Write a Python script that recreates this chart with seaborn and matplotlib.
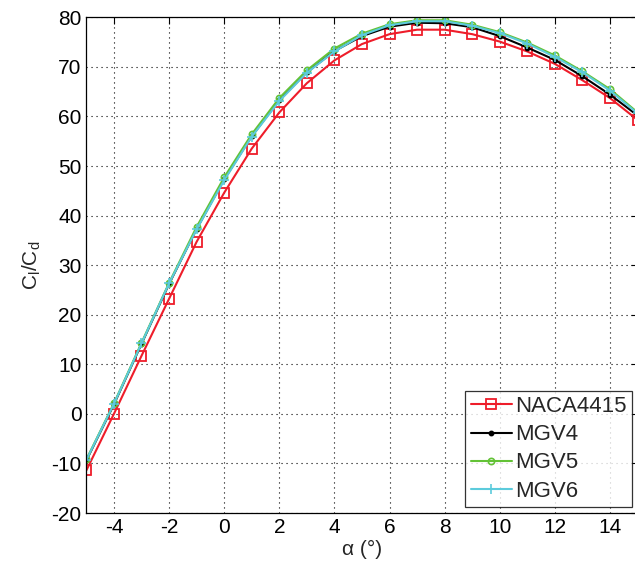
import numpy as np
import pandas as pd
import matplotlib
matplotlib.use("Agg")
import matplotlib.pyplot as plt
import seaborn as sns

# Angle of attack (deg)
alpha = [-5, -4, -3, -2, -1, 0, 1, 2, 3, 4, 5, 6, 7, 8, 9, 10, 11, 12, 13, 14, 15]

# Lift-to-drag ratio for each airfoil
naca4415 = [-11.4, 0.0, 11.7, 23.2, 34.7, 44.6, 53.5, 60.8, 66.7, 71.3, 74.6,
            76.6, 77.5, 77.5, 76.6, 75.1, 73.1, 70.6, 67.3, 63.7, 59.3]
mgv4 = [-9.4, 1.9, 14.1, 26.2, 37.3, 47.3, 56.0, 63.3, 68.9, 73.2, 76.2,
        78.1, 78.9, 78.8, 78.0, 76.2, 73.9, 71.4, 68.1, 64.4, 60.2]
mgv5 = [-9.2, 2.1, 14.3, 26.4, 37.7, 47.7, 56.4, 63.7, 69.3, 73.7, 76.7,
        78.6, 79.4, 79.4, 78.5, 77.0, 74.9, 72.3, 69.1, 65.5, 60.8]
mgv6 = [-9.3, 2.0, 14.2, 26.3, 37.2, 47.1, 55.9, 63.1, 68.8, 73.1, 76.4,
        78.4, 79.2, 79.2, 78.3, 76.8, 74.7, 72.0, 68.9, 65.2, 60.6]

names = ["NACA4415", "MGV4", "MGV5", "MGV6"]
series = [naca4415, mgv4, mgv5, mgv6]

df = pd.concat(
    [pd.DataFrame({"alpha": alpha, "ratio": vals, "airfoil": name})
     for name, vals in zip(names, series)],
    ignore_index=True,
)

sns.set_style("white")
plt.rcParams["font.family"] = ["Liberation Sans", "DejaVu Sans"]
plt.rcParams["mathtext.fontset"] = "custom"
plt.rcParams["mathtext.rm"] = "Liberation Sans"
plt.rcParams["mathtext.it"] = "Liberation Sans"
plt.rcParams["axes.unicode_minus"] = False

fig = plt.figure(figsize=(6.35, 5.67), dpi=100)
ax = fig.add_axes([0.136, 0.0952, 0.868, 0.8743])

styles = {
    "NACA4415": dict(color="#ee1d2a", marker="s", ms=6.8, mfc="none", mew=1.3, lw=1.5),
    "MGV4": dict(color="#000000", marker="o", ms=3.2, mfc="#000000", mew=1.0, lw=1.5),
    "MGV5": dict(color="#63c236", marker="o", ms=4.5, mfc="none", mew=1.2, lw=1.5),
    "MGV6": dict(color="#5ccbdc", marker="+", ms=7.5, mew=1.2, lw=1.5),
}

for name in names:
    sub = df[df["airfoil"] == name]
    st = styles[name]
    sns.lineplot(data=sub, x="alpha", y="ratio", ax=ax, label=name,
                 color=st["color"], marker=st["marker"], markersize=st["ms"],
                 markerfacecolor=st.get("mfc", st["color"]),
                 markeredgecolor=st["color"], markeredgewidth=st["mew"],
                 linewidth=st["lw"], estimator=None, sort=False)

ax.set_xlim(-5, 15)
ax.set_ylim(-20, 80)
ax.set_xticks(np.arange(-4, 15, 2))
ax.set_yticks(np.arange(-20, 81, 10))

ax.grid(True, color="black", linestyle=(0, (1, 3.5)), linewidth=0.8)
ax.tick_params(direction="in", length=5, width=0.8, labelsize=15,
               top=True, right=True, colors="black")
for sp in ax.spines.values():
    sp.set_color("black")
    sp.set_linewidth(0.9)

ax.set_xlabel("\u03b1 (\u00b0)", fontsize=15, labelpad=2)
ax.set_ylabel(r"$\mathregular{C_l/C_d}$", fontsize=15, labelpad=6)

leg = ax.legend(loc="lower right", bbox_to_anchor=(0.99, 0.012), fontsize=16,
                frameon=True, fancybox=False, edgecolor="black",
                borderpad=0.25, labelspacing=0.32, handlelength=1.85,
                handletextpad=0.15, borderaxespad=0)
leg.get_frame().set_linewidth(0.9)

fig.savefig("out.png", dpi=100)
